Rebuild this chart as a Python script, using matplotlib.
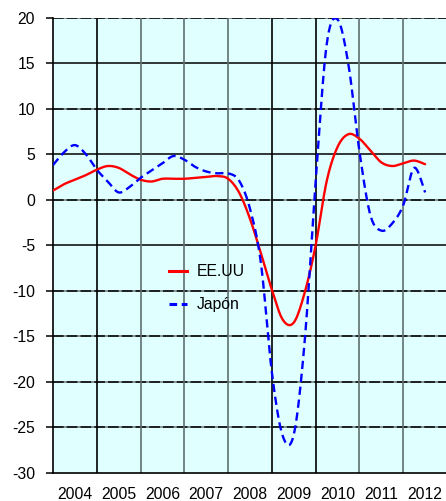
import numpy as np
import matplotlib
matplotlib.use("Agg")
import matplotlib.pyplot as plt
from matplotlib.lines import Line2D

plt.rcParams['font.family'] = ['Liberation Sans', 'DejaVu Sans']
plt.rcParams['axes.unicode_minus'] = False

# Quarterly data, 2004Q1 .. 2012Q3
years = [2004, 2005, 2006, 2007, 2008, 2009, 2010, 2011, 2012]
start_year = 2004
ee_uu = [1.0, 1.7, 2.2, 2.7, 3.3, 3.7, 3.5, 2.8,
         2.2, 2.0, 2.3, 2.3, 2.3, 2.4, 2.5, 2.6,
         2.3, 0.8, -2.1, -5.9, -9.9, -13.2, -13.5, -10.2,
         -5.0, 2.0, 5.8, 7.2, 6.7, 5.4, 4.1, 3.7,
         4.0, 4.3, 3.9]
japon = [3.8, 5.2, 6.0, 5.0, 3.3, 2.0, 0.8, 1.4,
         2.4, 3.2, 4.0, 4.8, 4.4, 3.6, 3.1, 2.9,
         2.9, 2.1, -1.0, -7.0, -19.0, -26.0, -25.8, -15.5,
         2.0, 17.0, 19.8, 14.8, 5.3, -1.7, -3.4, -2.6,
         -0.6, 3.5, 0.8]
series_names = ["EE.UU", "Japón"]
yticks = list(range(-30, 21, 5))


def smooth(x, y, n=24):
    """Excel-like smoothed line (Catmull-Rom Bezier through the points)."""
    x = np.asarray(x, float)
    y = np.asarray(y, float)
    px = np.concatenate([[x[0]], x, [x[-1]]])
    py = np.concatenate([[y[0]], y, [y[-1]]])
    xs, ys = [], []
    t = np.linspace(0, 1, n, endpoint=False)
    for i in range(1, len(px) - 2):
        p0x, p1x, p2x, p3x = px[i - 1], px[i], px[i + 1], px[i + 2]
        p0y, p1y, p2y, p3y = py[i - 1], py[i], py[i + 1], py[i + 2]
        c1x = p1x + (p2x - p0x) / 6
        c1y = p1y + (p2y - p0y) / 6
        c2x = p2x - (p3x - p1x) / 6
        c2y = p2y - (p3y - p1y) / 6
        b0 = (1 - t) ** 3
        b1 = 3 * (1 - t) ** 2 * t
        b2 = 3 * (1 - t) * t ** 2
        b3 = t ** 3
        xs.append(b0 * p1x + b1 * c1x + b2 * c2x + b3 * p2x)
        ys.append(b0 * p1y + b1 * c1y + b2 * c2y + b3 * p2y)
    xs.append([x[-1]])
    ys.append([y[-1]])
    return np.concatenate(xs), np.concatenate(ys)


W, H = 446, 501
fig = plt.figure(figsize=(W / 100, H / 100), dpi=100)
ax = fig.add_axes([53 / W, (H - 472.7) / H, 394 / W, 455 / H])
ax.set_facecolor('#E0FFFF')

xq = start_year + np.arange(len(ee_uu)) / 4.0
ax.set_xlim(2004, 2013)
ax.set_ylim(-30, 20)

# grid
for v in yticks[1:]:
    if v in (15, 5, -5):
        ax.axhline(v, color='black', lw=1.1, zorder=1)
    else:
        ax.axhline(v, color='#6a7a7a', lw=1.1, zorder=1)
        ax.axhline(v, color='black', lw=1.1, zorder=1, dashes=(7, 2))
vcols = {2005: 'black', 2006: '#5f6f6f', 2007: '#5f6f6f', 2008: '#5f6f6f',
         2009: 'black', 2010: 'black', 2011: '#5f6f6f', 2012: '#5f6f6f'}
for yr in years[1:]:
    ax.axvline(yr, color=vcols[yr], lw=1.2, zorder=1)

sx, sy = smooth(xq, ee_uu)
ax.plot(sx, sy, color='#FF0000', lw=1.7, zorder=3, solid_capstyle='round')
sx, sy = smooth(xq, japon)
ax.plot(sx, sy, color='#0000FF', lw=1.7, zorder=3, dashes=(3.5, 2))

for s in ('top', 'right'):
    ax.spines[s].set_visible(False)
for s in ('left', 'bottom'):
    ax.spines[s].set_color('black')
    ax.spines[s].set_linewidth(1.2)

FS = 11.3
ax.set_yticks(yticks)
ax.set_yticklabels([str(v) for v in yticks], fontsize=FS)
ax.tick_params(axis='y', length=5, width=1.1, color='black', pad=8)
ax.set_xticks([y + 0.5 for y in years])
ax.set_xticklabels([str(y) for y in years], fontsize=FS)
ax.tick_params(axis='x', length=0, pad=10)

handles = [Line2D([], [], color='#FF0000', lw=2.2),
           Line2D([], [], color='#0000FF', lw=2.2, dashes=(2.5, 1.5))]
ax.legend(handles, series_names, loc='upper left', frameon=False,
          bbox_to_anchor=(169 / W, 1 - 264 / H), bbox_transform=fig.transFigure,
          borderpad=0, borderaxespad=0, handlelength=1.15, handletextpad=0.6,
          labelspacing=1.15, fontsize=FS)

fig.savefig('out.png', dpi=100)
